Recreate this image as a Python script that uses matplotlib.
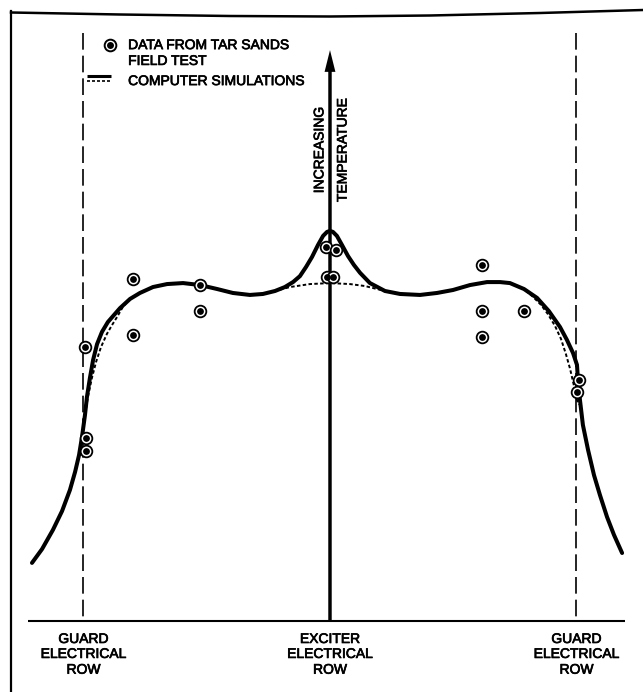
import matplotlib
matplotlib.use("Agg")
import matplotlib.pyplot as plt
import matplotlib.patheffects as pe
from matplotlib.lines import Line2D

plt.rcParams['font.family'] = ['Liberation Sans', 'DejaVu Sans']

# Horizontal distance across the electrode pattern (guard rows at -10 and +10,
# exciter row at 0) and relative temperature (0 at the baseline).
exciter_x = 0.0
guard_x = [-10.0, 10.0]
row_positions = [-10.0, 0.0, 10.0]
row_labels = ["GUARD\nELECTRICAL\nROW", "EXCITER\nELECTRICAL\nROW", "GUARD\nELECTRICAL\nROW"]

# Computer simulation with the exciter-row peak (heavy solid curve)
sim_solid_x = [-12.09, -11.68, -11.24, -10.87, -10.55, -10.34, -10.18, -10.06, -9.94, -9.86,
               -9.74, -9.61, -9.45, -9.25, -9.01, -8.52, -8.11, -7.71, -7.18, -6.61,
               -5.96, -5.27, -4.58, -3.94, -3.25, -2.72, -2.23, -1.83, -1.50, -1.22,
               -0.97, -0.73, -0.49, -0.28, -0.12, 0.0, 0.12, 0.28, 0.49, 0.73,
               0.97, 1.22, 1.62, 2.23, 2.84, 3.65, 4.34, 4.99, 5.68, 6.37,
               6.90, 7.30, 7.87, 8.40, 8.88, 9.33, 9.61, 9.86, 10.02, 10.06,
               10.14, 10.26, 10.47, 10.71, 10.95, 11.24, 11.52, 11.85]
sim_solid_t = [17.6, 21.8, 27.6, 33.3, 39.7, 45.2, 50.3, 55.8, 62.4, 67.9,
               73.6, 79.1, 83.9, 87.6, 90.6, 94.8, 97.6, 99.4, 101.2, 102.1,
               102.4, 101.8, 100.6, 99.4, 98.8, 99.1, 100.0, 101.2, 102.7, 104.5,
               107.3, 110.3, 113.9, 116.7, 117.9, 118.2, 117.9, 116.7, 113.9, 110.6,
               107.9, 105.5, 102.4, 100.0, 99.1, 98.8, 99.4, 100.3, 101.8, 102.7,
               102.7, 102.4, 100.6, 97.9, 93.9, 89.1, 85.2, 81.2, 77.6, 73.0,
               67.0, 59.4, 51.8, 44.2, 38.2, 31.5, 26.1, 20.6]

# Computer simulation without the peak (light dotted curve)
sim_dotted_x = [-10.06, -9.94, -9.82, -9.66, -9.49, -9.29, -9.05, -8.84, -8.64, -8.40,
                -8.11, -7.71, -7.18, -6.61, -5.96, -5.27, -4.58, -3.94, -3.25, -2.72,
                -2.23, -1.62, -0.81, 0.0, 0.81, 1.42, 2.23, 2.84, 3.65, 4.34,
                4.99, 5.68, 6.37, 6.90, 7.30, 7.87, 8.24, 8.56, 8.84, 9.13,
                9.37, 9.57, 9.74, 9.90, 10.02, 10.10]
sim_dotted_t = [55.8, 62.4, 67.9, 73.6, 78.5, 83.0, 87.0, 89.7, 92.1, 95.2,
                97.6, 99.4, 101.2, 102.1, 102.4, 101.8, 100.6, 99.4, 98.8, 99.1,
                100.0, 101.2, 102.1, 102.4, 102.1, 101.5, 100.0, 99.1, 98.8, 99.4,
                100.3, 101.8, 102.7, 102.7, 102.4, 100.6, 98.2, 95.8, 93.0, 89.4,
                85.5, 80.9, 76.4, 71.2, 67.0, 65.5]

# Tar sands field test measurements
field_x = [-9.94, -7.99, -7.99, -5.27, -5.27, -9.90, -9.90,
           -0.16, 0.24, -0.12, 0.12,
           6.17, 6.17, 6.17, 7.87, 10.10, 10.02]
field_t = [83.0, 103.6, 86.7, 101.8, 93.9, 55.5, 51.5,
           113.3, 112.4, 104.2, 104.2,
           107.9, 93.9, 86.1, 93.9, 73.0, 69.4]

legend_data = ["DATA FROM TAR SANDS", "FIELD TEST"]
legend_sim = "COMPUTER SIMULATIONS"
axis_label = ["INCREASING", "TEMPERATURE"]

W, H = 643, 692
fig = plt.figure(figsize=(W / 100, H / 100), dpi=100)
ax = fig.add_axes([0, 0, 1, 1])
ax.set_xlim(-13.387, 12.698)
ax.set_ylim(-21.52, 188.18)
ax.axis('off')

# slightly heavier lettering
heavy = [pe.withStroke(linewidth=0.5, foreground='black')]
txt = dict(fontsize=10, color='black', path_effects=heavy)

# outer frame (left and top rules)
fig.add_artist(Line2D([11 / W, 11 / W], [0, 1 - 11 / H], transform=fig.transFigure,
                      color='black', lw=1.6))
frame_top_x = [11, 120, 230, 330, 430, 540, 643]
frame_top_y = [12.5, 14.5, 16.0, 16.5, 15.5, 13.0, 10.0]
fig.add_artist(Line2D([v / W for v in frame_top_x], [1 - v / H for v in frame_top_y],
                      transform=fig.transFigure, color='black', lw=1.8))

# baseline
ax.plot([-12.25, 11.97], [0, 0], color='black', lw=1.5, solid_capstyle='butt')

# guard rows (dashed verticals)
for gx in guard_x:
    ax.plot([gx, gx], [178.2, 0], color='black', lw=1.2,
            linestyle=(0, (10.0, 3.6)), dash_capstyle='butt')

# exciter row: temperature axis arrow
ax.arrow(exciter_x, 0, 0, 173.0, width=0.14, head_width=0.44, head_length=6.6,
         length_includes_head=True, color='black', lw=0)

# simulations
ax.plot(sim_dotted_x, sim_dotted_t, color='black', lw=1.4,
        linestyle=(0, (1.8, 1.2)), zorder=3)
ax.plot(sim_solid_x, sim_solid_t, color='black', lw=2.9,
        solid_joinstyle='round', solid_capstyle='round', zorder=4)

# field data
ax.plot(field_x, field_t, linestyle='none', marker='o', ms=8.4, mfc='white',
        mec='black', mew=1.3, zorder=5)
ax.plot(field_x, field_t, linestyle='none', marker='o', ms=4.9, mfc='black',
        mec='black', mew=0, zorder=6)

# vertical axis label
ax.text(-0.43, 142.7, axis_label[0], rotation=90, ha='center', va='center', **txt)
ax.text(0.51, 142.7, axis_label[1], rotation=90, ha='center', va='center', **txt)

# row labels under the baseline, one line at a time
line_base = [-6.67, -11.2, -15.97]
for px, lab in zip(row_positions, row_labels):
    for ty, line in zip(line_base, lab.split("\n")):
        ax.text(px, ty, line, ha='center', va='baseline', **txt)

# legend
ax.plot([-8.92], [174.5], linestyle='none', marker='o', ms=8.4, mfc='white',
        mec='black', mew=1.4)
ax.plot([-8.92], [174.5], linestyle='none', marker='o', ms=5.0, mfc='black', mew=0)
ax.text(-8.19, 173.3, legend_data[0], ha='left', va='baseline', **txt)
ax.text(-8.19, 168.5, legend_data[1], ha='left', va='baseline', **txt)
ax.plot([-9.86, -8.88], [165.0, 165.0], color='black', lw=2.2, solid_capstyle='butt')
ax.plot([-9.86, -8.88], [163.5, 163.5], color='black', lw=1.2,
        linestyle=(0, (1.8, 1.2)))
ax.text(-8.19, 162.4, legend_sim, ha='left', va='baseline', **txt)

fig.savefig("out.png", dpi=100, facecolor='white')
